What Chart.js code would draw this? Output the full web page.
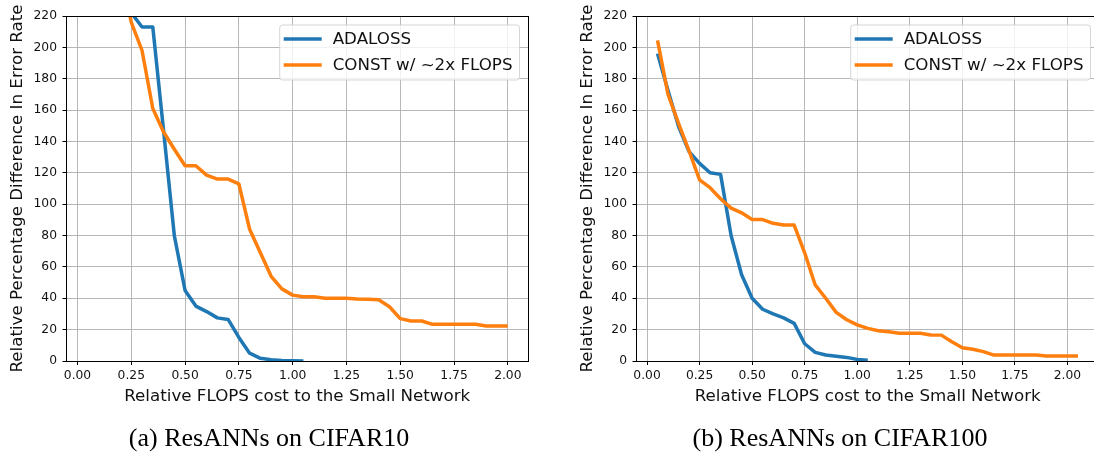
<!DOCTYPE html>
<html><head><meta charset="utf-8">
<script src="https://cdn.jsdelivr.net/npm/chart.js@4/dist/chart.umd.min.js"></script>
<style>
html,body{margin:0;padding:0;background:#fff;width:1094px;height:455px;overflow:hidden;}
#wrap{position:relative;width:1094px;height:455px;overflow:hidden;background:#fff;}
canvas{position:absolute;top:0;}
.cap{position:absolute;font-family:"Liberation Serif","Times New Roman",serif;font-size:26px;line-height:26px;color:#000;white-space:nowrap;transform:translateX(-50%);}
</style></head><body>
<div id="wrap">
<canvas id="c1" width="540" height="455" style="left:0px"></canvas>
<canvas id="c2" width="531" height="455" style="left:570px"></canvas>
<div class="cap" style="left:269px;top:425px">(a) ResANNs on CIFAR10</div>
<div class="cap" style="left:840px;top:425px">(b) ResANNs on CIFAR100</div>
</div>
<script>
const seriesLabels = ['ADALOSS', 'CONST w/ ~2x FLOPS'];
const seriesColors = ['#1f77b4', '#ff7f0e'];
const xTitle = 'Relative FLOPS cost to the Small Network';
const yTitle = 'Relative Percentage Difference In Error Rate';
const xTickValues = [0, 0.25, 0.5, 0.75, 1.0, 1.25, 1.5, 1.75, 2.0];
const yTickValues = [0, 20, 40, 60, 80, 100, 120, 140, 160, 180, 200, 220];

// (a) CIFAR10
const c10AdalossX = [0.15,0.20,0.25,0.30,0.35,0.40,0.45,0.50,0.55,0.60,0.65,0.70,0.75,0.80,0.85,0.90,0.95,1.00,1.05];
const c10AdalossY = [290,250,222,213,213,147,80,45,35,31.5,27.5,26.5,15,5,1.7,0.8,0.3,0.1,0];
const c10ConstX = [0.20,0.25,0.30,0.35,0.40,0.45,0.50,0.55,0.60,0.65,0.70,0.75,0.80,0.85,0.90,0.95,1.00,1.05,1.10,1.15,1.20,1.25,1.30,1.35,1.40,1.45,1.50,1.55,1.60,1.65,1.70,1.75,1.80,1.85,1.90,1.95,2.00];
const c10ConstY = [250,216,198,161,146,135,124.5,124.5,118.5,116,116,113,84,69,54,46,42,41,41,40,40,40,39.5,39.3,39,34.6,27,25.5,25.5,23.4,23.4,23.4,23.4,23.4,22.3,22.3,22.3];

// (b) CIFAR100
const c100AdalossX = [0.05,0.10,0.15,0.20,0.25,0.30,0.35,0.40,0.45,0.50,0.55,0.60,0.65,0.70,0.75,0.80,0.85,0.90,0.95,1.00,1.05];
const c100AdalossY = [196,172.5,149.5,133.5,126,120,119,80,55,40,33,30,27.5,24,11,5.5,3.8,3,2.3,1,0.5];
const c100ConstX = [0.05,0.10,0.15,0.20,0.25,0.30,0.35,0.40,0.45,0.50,0.55,0.60,0.65,0.70,0.75,0.80,0.85,0.90,0.95,1.00,1.05,1.10,1.15,1.20,1.25,1.30,1.35,1.40,1.45,1.50,1.55,1.60,1.65,1.70,1.75,1.80,1.85,1.90,1.95,2.00,2.05];
const c100ConstY = [204.5,170,151.5,134,115.5,110.5,103.5,97.5,94.5,90.2,90.2,87.8,86.7,86.7,69,48.5,40,31,26.3,23,20.8,19.3,18.7,17.7,17.7,17.7,16.6,16.5,12.3,8.5,7.5,6,3.8,3.8,3.8,3.8,3.8,3.2,3.2,3.2,3.2];

const FONT = '"DejaVu Sans", sans-serif';
const TEXT = '#111';

const framePlugin = {
  id: 'frameLegend',
  afterDatasetsDraw(chart) {
    const ctx = chart.ctx, a = chart.chartArea;
    const L = Math.round(a.left - 0.5) + 0.5, R = Math.round(a.right - 0.5) + 0.5;
    const T = Math.round(a.top - 0.5) + 0.5, B = Math.round(a.bottom - 0.5) + 0.5;
    ctx.save();
    ctx.strokeStyle = '#000';
    ctx.lineWidth = 1;
    ctx.strokeRect(L, T, R - L, B - T);
    ctx.restore();
  },
  afterDraw(chart) {
    const ctx = chart.ctx, a = chart.chartArea;
    const ds = chart.data.datasets;
    ctx.save();
    ctx.font = '16.7px ' + FONT;
    let maxW = 0;
    ds.forEach(d => { maxW = Math.max(maxW, ctx.measureText(d.label).width); });
    const w = 4 + 38 + 11 + maxW + 7, h = 55;
    const right = a.right - 8.5, left = right - w, top = a.top + 9;
    const r = 3;
    ctx.beginPath();
    ctx.moveTo(left + r, top);
    ctx.lineTo(right - r, top); ctx.arcTo(right, top, right, top + r, r);
    ctx.lineTo(right, top + h - r); ctx.arcTo(right, top + h, right - r, top + h, r);
    ctx.lineTo(left + r, top + h); ctx.arcTo(left, top + h, left, top + h - r, r);
    ctx.lineTo(left, top + r); ctx.arcTo(left, top, left + r, top, r);
    ctx.closePath();
    ctx.fillStyle = 'rgba(255,255,255,0.8)';
    ctx.fill();
    ctx.strokeStyle = 'rgba(204,204,204,0.8)';
    ctx.lineWidth = 1;
    ctx.stroke();
    const order = [0, 1];
    order.forEach((i, k) => {
      const d = ds[i];
      const cy = top + 14 + k * 26;
      ctx.strokeStyle = d.borderColor;
      ctx.lineWidth = 3.5;
      ctx.beginPath();
      ctx.moveTo(left + 4, cy); ctx.lineTo(left + 42, cy);
      ctx.stroke();
      ctx.fillStyle = TEXT;
      ctx.textBaseline = 'middle';
      ctx.textAlign = 'left';
      ctx.fillText(d.label, left + 53, cy + 1);
    });
    ctx.restore();
  }
};

function pts(xs, ys) { return xs.map((x, i) => ({ x: x, y: ys[i] })); }

function makeChart(id, xMin, xMax, adaX, adaY, conX, conY) {
  const mk = (label, color, data, order) => ({
    label: label, data: data, borderColor: color, backgroundColor: color,
    borderWidth: 3.5, pointRadius: 0, pointHoverRadius: 0, tension: 0,
    borderJoinStyle: 'round', borderCapStyle: 'butt', fill: false, clip: 0, order: order
  });
  return new Chart(document.getElementById(id), {
    type: 'line',
    data: {
      datasets: [
        mk(seriesLabels[0], seriesColors[0], pts(adaX, adaY), 1),
        mk(seriesLabels[1], seriesColors[1], pts(conX, conY), 0)
      ]
    },
    options: {
      responsive: false, animation: false, devicePixelRatio: 1,
      events: [],
      layout: { padding: { left: 0, right: 12, top: 16, bottom: 48.3 } },
      plugins: { legend: { display: false }, tooltip: { enabled: false } },
      scales: {
        x: {
          type: 'linear', min: xMin, max: xMax,
          afterBuildTicks: s => { s.ticks = xTickValues.map(v => ({ value: v })); },
          afterFit: s => { s.height = 45.7; },
          ticks: { callback: v => Number(v).toFixed(2), font: { family: FONT, size: 12.3 }, color: TEXT, padding: 3, maxRotation: 0, autoSkip: false },
          grid: { color: 'rgba(176,176,176,0.9)', lineWidth: 1, drawTicks: true, tickLength: 4, tickColor: '#000', tickWidth: 1 },
          border: { display: true, color: '#000', width: 1 },
          title: { display: true, text: xTitle, color: TEXT, font: { family: FONT, size: 16.7, lineHeight: 1.2 }, padding: { top: 0, bottom: 0 } }
        },
        y: {
          type: 'linear', min: 0, max: 220,
          afterBuildTicks: s => { s.ticks = yTickValues.map(v => ({ value: v })); },
          afterFit: s => { s.width = 66.5; },
          ticks: { callback: v => String(v), font: { family: FONT, size: 12.3 }, color: TEXT, padding: 5.5, autoSkip: false },
          grid: { color: 'rgba(176,176,176,0.9)', lineWidth: 1, drawTicks: true, tickLength: 4, tickColor: '#000', tickWidth: 1 },
          border: { display: true, color: '#000', width: 1 },
          title: { display: true, text: yTitle, color: TEXT, font: { family: FONT, size: 16.7, lineHeight: 1.2 }, padding: { top: 7.5, bottom: 0 } }
        }
      }
    },
    plugins: [framePlugin]
  });
}

const chartA = makeChart('c1', -0.0511, 2.0938, c10AdalossX, c10AdalossY, c10ConstX, c10ConstY);
const chartB = makeChart('c2', -0.05, 2.15, c100AdalossX, c100AdalossY, c100ConstX, c100ConstY);
chartB.options.layout.padding.right = 2;
chartB.update();
</script>
</body></html>
